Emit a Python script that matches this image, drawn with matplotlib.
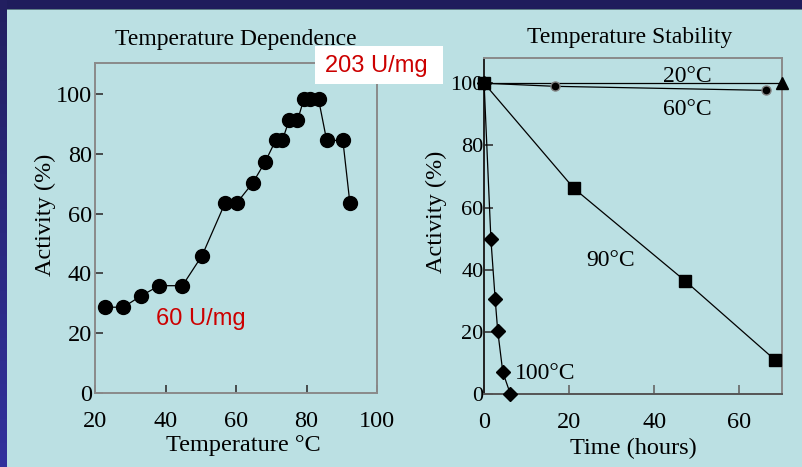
import matplotlib
matplotlib.use("Agg")
import matplotlib.pyplot as plt
from matplotlib.patches import Rectangle
import numpy as np

# ---------------- data ----------------
dep_temp = [22.7, 27.9, 32.8, 38.1, 44.7, 50.3, 56.8, 60.1, 64.7, 68.2,
            71.2, 73.1, 75.0, 77.4, 79.2, 80.9, 83.4, 85.7, 90.3, 92.3]
dep_act = [28.7, 28.7, 32.4, 35.9, 35.9, 46.0, 63.5, 63.5, 70.3, 77.3,
           84.5, 84.5, 91.2, 91.2, 98.2, 98.2, 98.2, 84.5, 84.5, 63.5]

t20 = [0, 70]
a20 = [100, 100]
t60 = [0, 16.6, 66.2]
a60 = [100, 99.0, 97.7]
t90 = [0, 21.1, 47.2, 68.4]
a90 = [100, 66.2, 36.5, 11.0]
t100 = [0, 1.6, 2.6, 3.2, 4.4, 6.2]
a100 = [100, 49.8, 30.6, 20.4, 7.1, 0]

dep_xticks = [20, 40, 60, 80, 100]
dep_yticks = [0, 20, 40, 60, 80, 100]
stab_xticks = [0, 20, 40, 60]
stab_yticks = [0, 20, 40, 60, 80, 100]

SERIF = "Liberation Serif"
SANS = "Liberation Sans"
BG = "#BBE0E3"
FS = 17.5

fig = plt.figure(figsize=(8.03, 4.67), dpi=100)
fig.patch.set_facecolor(BG)

W, H = 803.0, 467.0
def fx(px):
    return px / W
def fy(py):
    return 1 - py / H

# frame decoration: top navy bar, thin line, left gradient bar
fig.patches.append(Rectangle((0, fy(9)), 1, 9 / H, transform=fig.transFigure,
                             facecolor="#1F1D5C", edgecolor="none", zorder=-5))
fig.patches.append(Rectangle((0, fy(10)), 1, 1.2 / H, transform=fig.transFigure,
                             facecolor="#5F7F88", edgecolor="none", zorder=-5))
top_c = np.array([0x22, 0x1F, 0x60]) / 255
bot_c = np.array([0x31, 0x30, 0x9C]) / 255
nstrip = 40
for i in range(nstrip):
    f = i / (nstrip - 1)
    c = top_c * (1 - f) + bot_c * f
    y0 = fy(H) + (1 - fy(H)) * (1 - (i + 1) / nstrip)
    fig.patches.append(Rectangle((0, y0), 7 / W, 1.0 / nstrip + 0.002,
                                 transform=fig.transFigure, facecolor=c,
                                 edgecolor="none", zorder=-4))

# ---------------- left: temperature dependence ----------------
ax1 = fig.add_axes([fx(95.5), fy(393), (377 - 95.5) / W, (393 - 63) / H])
ax1.set_facecolor("none")
ax1.plot(dep_temp, dep_act, color="black", lw=0.9, marker="o", ms=10,
         mfc="black", mec="black", clip_on=False, zorder=3)
ax1.set_xlim(20, 100)
ax1.set_ylim(0, 110.4)
ax1.set_xticks(dep_xticks)
ax1.set_yticks(dep_yticks)
for s in ax1.spines.values():
    s.set_color("#8A8A8A")
    s.set_linewidth(1.4)
ax1.tick_params(direction="in", length=5.5, width=1.2, color="#333333",
                labelsize=FS, labelcolor="black")
ax1.tick_params(axis="y", pad=2.5)
ax1.tick_params(axis="x", pad=13)
for lab in ax1.get_xticklabels() + ax1.get_yticklabels():
    lab.set_family(SERIF)
ax1.set_title("Temperature Dependence", family=SERIF, fontsize=17, color="black",
              x=0.499, y=1.04, va="bottom", pad=0)
ax1.set_xlabel("Temperature °C", family=SERIF, fontsize=FS, color="black")
ax1.xaxis.set_label_coords(0.524, -0.1576)
ax1.xaxis.label.set_va("center")
ax1.set_ylabel("Activity (%)", family=SERIF, fontsize=FS, color="black")
ax1.yaxis.label.set_rotation_mode("default")
ax1.yaxis.label.set_va("center")
ax1.yaxis.label.set_ha("center")
ax1.yaxis.set_label_coords(-0.178, 0.539)

# ---------------- right: temperature stability ----------------
ax2 = fig.add_axes([fx(484.1), fy(394.3), (782 - 484.1) / W, (394.3 - 57.7) / H])
ax2.set_facecolor("none")
ax2.plot(t20, a20, color="black", lw=0.9, zorder=3)
ax2.plot(t20[-1:], a20[-1:], color="black", ls="none", marker="^", ms=9,
         clip_on=False, zorder=4)
ax2.plot(t60, a60, color="black", lw=0.9, marker="o", ms=6.5, mfc="black",
         mec="#808080", mew=1.0, clip_on=False, zorder=4)
ax2.plot(t90, a90, color="black", lw=0.9, marker="s", ms=8, mfc="black",
         mec="black", clip_on=False, zorder=5)
ax2.plot(t100, a100, color="black", lw=0.9, marker="D", ms=7, mfc="black",
         mec="black", clip_on=False, zorder=4)
ax2.set_xlim(0, 70)
ax2.set_ylim(0, 108.2)
ax2.set_xticks(stab_xticks)
ax2.set_yticks(stab_yticks)
for k, s in ax2.spines.items():
    s.set_linewidth(1.4)
    s.set_color("#8A8A8A")
ax2.spines["left"].set_color("#222222")
ax2.spines["bottom"].set_color("#555555")
ax2.tick_params(direction="in", length=6.5, width=1.2, color="#333333",
                labelcolor="black")
ax2.tick_params(axis="y", pad=0.3, labelsize=16)
ax2.tick_params(axis="x", pad=13, color="#666666", labelsize=FS)
for lab in ax2.get_xticklabels() + ax2.get_yticklabels():
    lab.set_family(SERIF)
ax2.set_title("Temperature Stability", family=SERIF, fontsize=17, color="black",
              x=0.49, y=1.029, va="bottom", pad=0)
ax2.set_xlabel("Time (hours)", family=SERIF, fontsize=FS, color="black")
ax2.xaxis.set_label_coords(0.5, -0.1595)
ax2.xaxis.label.set_va("center")
ax2.set_ylabel("Activity (%)", family=SERIF, fontsize=FS, color="black")
ax2.yaxis.label.set_rotation_mode("default")
ax2.yaxis.label.set_va("center")
ax2.yaxis.label.set_ha("center")
ax2.yaxis.set_label_coords(-0.16, 0.5416)

# series labels
ax2.text(47.8, 102.3, "20°C", family=SERIF, fontsize=17, ha="center", va="center")
ax2.text(47.8, 91.6, "60°C", family=SERIF, fontsize=17, ha="center", va="center")
ax2.text(29.8, 43.1, "90°C", family=SERIF, fontsize=17, ha="center", va="center")
ax2.text(14.3, 6.6, "100°C", family=SERIF, fontsize=17, ha="center", va="center")

# red annotations
fig.patches.append(Rectangle((fx(315), fy(84)), 128 / W, 38 / H,
                             transform=fig.transFigure, facecolor="white",
                             edgecolor="none", zorder=5))
fig.text(fx(376.5), fy(66), "203 U/mg", family=SANS, fontsize=17,
         color="#CC0000", ha="center", va="center", zorder=6)
ax1.text(fx(201), fy(319), "60 U/mg", transform=fig.transFigure, family=SANS,
         fontsize=17, color="#CC0000", ha="center", va="center")

fig.savefig("out.png", dpi=100, facecolor=fig.get_facecolor())
